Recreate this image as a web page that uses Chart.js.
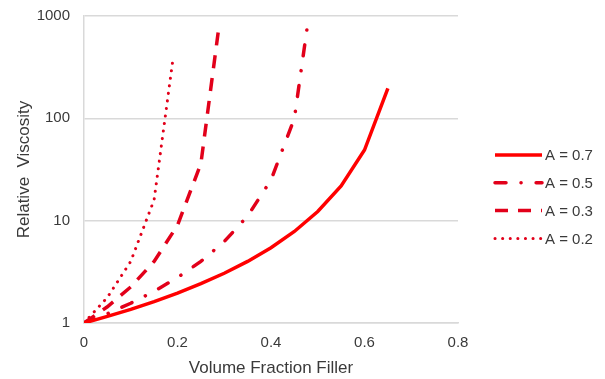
<!DOCTYPE html>
<html>
<head>
<meta charset="utf-8">
<script src="https://cdn.jsdelivr.net/npm/chart.js@4.4.1/dist/chart.umd.min.js"></script>
<style>
  body { margin: 0; background: #fff; }
  #wrap { width: 605px; height: 379px; position: relative; }
</style>
</head>
<body>
<div id="wrap"><canvas id="viscChart"></canvas></div>
<script>
// valores
const xTicks = [0, 0.2, 0.4, 0.6, 0.8];
const yTicks = [1, 10, 100, 1000];

const x07 = [0, 0.05, 0.1, 0.15, 0.2, 0.25, 0.3, 0.35, 0.4, 0.45, 0.5, 0.55, 0.6, 0.65];
const y07 = [1, 1.16, 1.36, 1.62, 1.96, 2.42, 3.06, 4.0, 5.44, 7.84, 12.3, 21.8, 49, 196];

const x05 = [0, 0.05, 0.1, 0.15, 0.2, 0.25, 0.3, 0.35, 0.4, 0.45, 0.477];
const y05 = [1, 1.23, 1.56, 2.04, 2.78, 4.0, 6.25, 11.1, 25, 100, 750];

const x03 = [0, 0.05, 0.1, 0.15, 0.2, 0.25, 0.288];
const y03 = [1, 1.44, 2.25, 4.0, 9.0, 36, 750];

const x02 = [0, 0.05, 0.1, 0.15, 0.19];
const y02 = [1, 1.78, 4.0, 16, 370];

const labels = ['A = 0.7', 'A = 0.5', 'A = 0.3', 'A = 0.2'];

function pts(xs, ys) {
    return xs.map((x, i) => ({ x: x, y: ys[i] }));
}

const textColor = '#3a3a3a';
const gridColor = '#d9d9d9';
const fontFam = '"Liberation Sans", Arial, sans-serif';

// legenda desenhada à direita
const sideLegend = {
    id: 'sideLegend',
    afterDraw(chart) {
        const ctx = chart.ctx;
        chart.data.datasets.forEach((ds, i) => {
            const y = 155 + i * 27.8;
            ctx.save();
            ctx.strokeStyle = ds.borderColor;
            ctx.lineWidth = ds.borderWidth;
            ctx.lineCap = ds.borderCapStyle || 'butt';
            ctx.setLineDash(ds.borderDash || []);
            ctx.beginPath();
            ctx.moveTo(495, y);
            ctx.lineTo(542, y);
            ctx.stroke();
            ctx.setLineDash([]);
            ctx.fillStyle = textColor;
            ctx.font = '15px ' + fontFam;
            ctx.textBaseline = 'middle';
            ctx.fillText(ds.label, 545, y + 1);
            ctx.restore();
        });
    }
};

const ctx = document.getElementById('viscChart').getContext('2d');
const viscChart = new Chart(ctx, {
    type: 'line',
    data: {
        datasets: [{
            label: labels[0],
            data: pts(x07, y07),
            borderColor: '#ff0000',
            borderWidth: 3.5,
            borderCapStyle: 'butt'
        }, {
            label: labels[1],
            data: pts(x05, y05),
            borderColor: '#e2001a',
            borderWidth: 3.5,
            borderDash: [11, 15, 0.1, 15],
            borderCapStyle: 'round'
        }, {
            label: labels[2],
            data: pts(x03, y03),
            borderColor: '#e2001a',
            borderWidth: 3.5,
            borderDash: [13, 10],
            borderCapStyle: 'butt'
        }, {
            label: labels[3],
            data: pts(x02, y02),
            borderColor: '#e2001a',
            borderWidth: 3,
            borderDash: [0.1, 7.5],
            borderCapStyle: 'round'
        }]
    },
    options: {
        responsive: true,
        maintainAspectRatio: false,
        animation: false,
        layout: { padding: { top: 16, right: 147, bottom: 0, left: 0 } },
        elements: {
            point: { radius: 0 },
            line: { tension: 0, fill: false }
        },
        plugins: {
            legend: { display: false },
            tooltip: { enabled: false }
        },
        scales: {
            x: {
                type: 'linear',
                min: 0,
                max: 0.8,
                afterBuildTicks: axis => { axis.ticks = xTicks.map(v => ({ value: v })); },
                afterFit: axis => { axis.height = 56; axis.paddingLeft = 0; axis.paddingRight = 0; },
                grid: { display: false, drawTicks: false },
                border: { display: true, color: gridColor, width: 1.5 },
                ticks: {
                    padding: 11,
                    color: textColor,
                    font: { family: fontFam, size: 15 },
                    callback: v => v === 0 ? '0' : v.toFixed(1)
                },
                title: {
                    display: true,
                    text: 'Volume Fraction Filler',
                    color: textColor,
                    font: { family: fontFam, size: 17 },
                    padding: { top: 5.6, bottom: 0 }
                }
            },
            y: {
                type: 'logarithmic',
                min: 1,
                max: 1000,
                afterBuildTicks: axis => { axis.ticks = yTicks.map(v => ({ value: v })); },
                afterFit: axis => { axis.width = 84; axis.paddingTop = 0; axis.paddingBottom = 0; },
                grid: { color: gridColor, lineWidth: 1.5, drawTicks: false },
                border: { display: true, color: gridColor, width: 1.5 },
                ticks: {
                    padding: 14,
                    color: textColor,
                    font: { family: fontFam, size: 15 },
                    callback: v => String(v)
                },
                title: {
                    display: true,
                    text: 'Relative  Viscosity',
                    color: textColor,
                    font: { family: fontFam, size: 17 },
                    padding: { top: 14, bottom: 2 }
                }
            }
        }
    },
    plugins: [sideLegend]
});
</script>
</body>
</html>
